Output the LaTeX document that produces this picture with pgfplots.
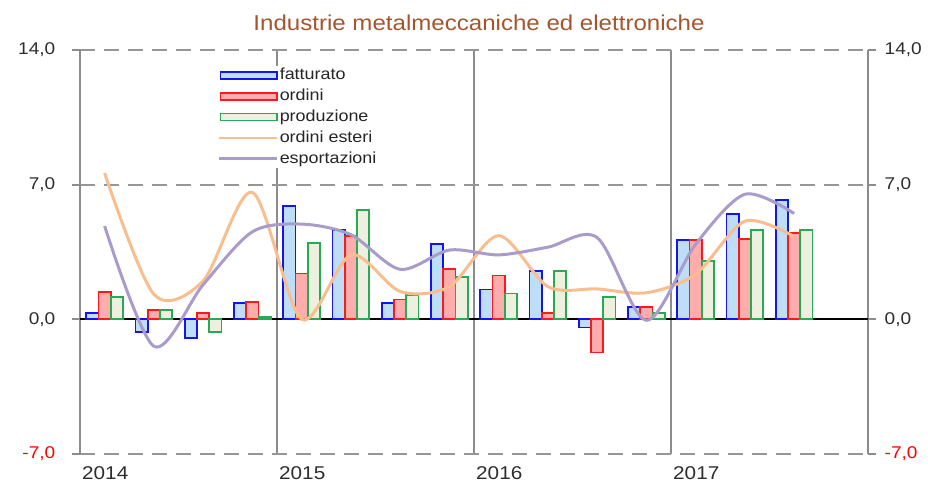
\documentclass[border=0pt]{standalone}
\usepackage{pgfplots}
\pgfplotsset{compat=1.18}
\usepackage{pgfplotstable}
\usepackage{fontspec}
\setmainfont{Liberation Sans}[FakeStretch=1.12]
\definecolor{bedge}{RGB}{20,20,235}
\definecolor{bfill}{RGB}{190,221,246}
\definecolor{redge}{RGB}{250,25,30}
\definecolor{rfill}{RGB}{255,172,172}
\definecolor{gedge}{RGB}{40,170,85}
\definecolor{gfill}{RGB}{237,240,222}
\definecolor{oline}{RGB}{250,190,142}
\definecolor{pline}{RGB}{170,156,202}
\definecolor{axgray}{RGB}{140,140,140}
\definecolor{gridgray}{RGB}{150,150,150}
\definecolor{labgray}{RGB}{45,45,45}
\definecolor{titlec}{RGB}{165,85,45}

\pgfplotstableread{
x fat ord prod oest esp
0.5 0.31 1.43 1.16 7.6 4.85
1.5 -0.66 0.50 0.50 1.3 -1.4
2.5 -0.95 0.31 -0.64 2.0 1.8
3.5 0.83 0.91 0.12 6.6 4.55
4.5 5.91 2.38 3.95 0.0 4.95
5.5 4.66 4.34 5.69 3.35 4.4
6.5 0.83 1.03 1.26 1.45 2.6
7.5 3.93 2.60 2.20 1.7 3.6
8.5 1.55 2.28 1.34 4.35 3.35
9.5 2.50 0.31 2.50 1.7 3.75
10.5 -0.43 -1.72 1.16 1.58 4.25
11.5 0.64 0.64 0.31 1.38 -0.05
12.5 4.14 4.14 3.02 2.35 3.9
13.5 5.48 4.17 4.66 5.1 6.5
14.5 6.21 4.48 4.66 4.3 5.5
}\datatab

\begin{document}
\begin{tikzpicture}[x=1bp,y=1bp]
\path[use as bounding box] (0,0) rectangle (928,483);
\begin{axis}[
  at={(80bp,29bp)}, anchor=south west,
  scale only axis, width=788bp, height=404bp,
  xmin=0, xmax=16, ymin=-7, ymax=14,
  separate axis lines,
  x axis line style={draw=none},
  y axis line style={draw=axgray, line width=1.8bp},
  xtick={0,4,8,12,16}, xticklabels={2014,2015,2016,2017,{}},
  xmajorgrids, x grid style={axgray, line width=1.8bp},
  xtick style={draw=none},
  xticklabel style={anchor=north west, inner sep=0pt, xshift=2bp, yshift=-4bp,
    font=\fontsize{18.5bp}{18.5bp}\selectfont, text=labgray},
  ytick={-7,7,14},
  yticklabels={{\textcolor{red}{-7,0}},{7,0},{14,0}},
  ymajorgrids, y grid style={gridgray, line width=1.8bp, dash pattern=on 15bp off 9bp},
  extra y ticks={0}, extra y tick labels={0{,}0},
  extra y tick style={y grid style={black, solid, line width=1.8bp}, tick style={black, line width=1.6bp}},
  tick align=outside, major tick length=8bp,
  ytick style={axgray, line width=1.8bp},
  ytick pos=both, yticklabel pos=left,
  yticklabel style={anchor=east, inner sep=0pt, xshift=-16.5bp,
    font=\fontsize{17bp}{17bp}\selectfont, text=labgray},
  legend cell align=left,
  legend style={at={(0.1751,0.961)}, anchor=north west, draw=none, fill=white,
    inner sep=0pt, row sep=1.8bp,
    font=\fontsize{16bp}{16bp}\selectfont, text=black!85,
    nodes={inner sep=1bp, text height=13bp, text depth=4bp},
    /tikz/every even column/.append style={column sep=9bp}},
]
\addplot[black, line width=1.8bp, forget plot] coordinates {(0,0) (16,0)};
\addplot[ybar, bar width=12.3bp, bar shift=-12.3bp, draw=bedge, fill=bfill, line width=1.8bp,
  legend image code/.code={\draw[draw=bedge, fill=bfill, line width=1.8bp] (1bp,-3.5bp) rectangle (57.5bp,3.5bp);}]
  table[x=x, y=fat] {\datatab};
\addlegendentry{fatturato}
\addplot[ybar, bar width=12.3bp, bar shift=0bp, draw=redge, fill=rfill, line width=1.8bp,
  legend image code/.code={\draw[draw=redge, fill=rfill, line width=1.8bp] (1bp,-3.5bp) rectangle (57.5bp,3.5bp);}]
  table[x=x, y=ord] {\datatab};
\addlegendentry{ordini}
\addplot[ybar, bar width=12.3bp, bar shift=12.3bp, draw=gedge, fill=gfill, line width=1.8bp,
  legend image code/.code={\draw[draw=gedge, fill=gfill, line width=1.8bp] (1bp,-3.5bp) rectangle (57.5bp,3.5bp);}]
  table[x=x, y=prod] {\datatab};
\addlegendentry{produzione}
\addplot[smooth, oline, line width=3bp, no markers,
  legend image code/.code={\draw[oline, line width=2.6bp] (0bp,0bp) -- (58bp,0bp);}]
  table[x=x, y=oest] {\datatab};
\addlegendentry{ordini esteri}
\addplot[smooth, pline, line width=3bp, no markers,
  legend image code/.code={\draw[pline, line width=2.6bp] (0bp,0bp) -- (58bp,0bp);}]
  table[x=x, y=esp] {\datatab};
\addlegendentry{esportazioni}
\end{axis}
\begin{axis}[
  at={(80bp,29bp)}, anchor=south west,
  scale only axis, width=788bp, height=404bp,
  xmin=0, xmax=16, ymin=-7, ymax=14,
  hide x axis, axis y line*=right,
  y axis line style={draw=none},
  ytick={-7,0,7,14},
  yticklabels={{\textcolor{red}{-7,0}},{0,0},{7,0},{14,0}},
  major tick length=0pt, ytick style={draw=none},
  yticklabel style={anchor=west, inner sep=0pt, xshift=16.5bp,
    font=\fontsize{17bp}{17bp}\selectfont, text=labgray},
]
\addplot[draw=none, forget plot] coordinates {(0,0) (16,0)};
\end{axis}
\node[anchor=base, text=titlec, inner sep=0pt, font=\fontsize{21.5bp}{21.5bp}\selectfont] at (479,452) {Industrie metalmeccaniche ed elettroniche};
\end{tikzpicture}
\end{document}
